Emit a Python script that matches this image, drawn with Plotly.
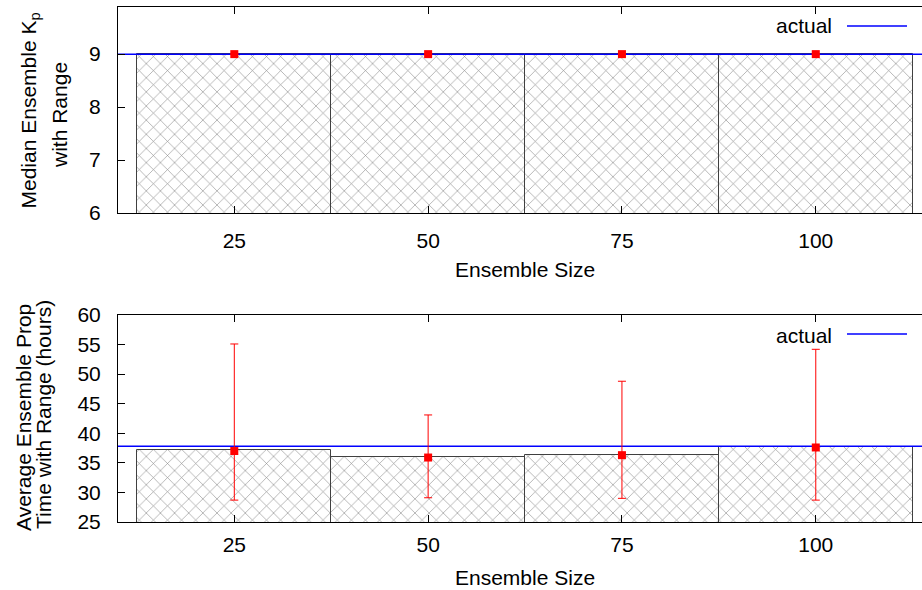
import plotly.graph_objects as go

# ---- data ----
ensemble_sizes = [25, 50, 75, 100]
kp_median = [9, 9, 9, 9]
kp_point = [9, 9, 9, 9]
kp_hi = [9, 9, 9, 9]
kp_lo = [9, 9, 9, 9]
kp_actual = 9

prop_avg = [37.2, 36.0, 36.3, 37.6]
prop_point = [37.0, 35.9, 36.3, 37.6]
prop_hi = [55.1, 43.1, 48.8, 54.2]
prop_lo = [28.7, 29.1, 29.0, 28.7]
prop_actual = 37.8

x_range = [10, 113.7]
kp_range = [6, 9.89]
prop_range = [25, 60]
bar_width = 25

W, H = 922, 590
FONT = "Liberation Sans, Arial, sans-serif"
FS = 21

def py(px):
    return 1 - px / H

def px_x(px):
    return px / W

fig = go.Figure()

def add_panel(xa, ya, means, pts, hi, lo, actual):
    fig.add_trace(go.Bar(
        x=ensemble_sizes, y=means, width=bar_width,
        xaxis=xa, yaxis=ya,
        marker=dict(color="white",
                    line=dict(color="#404040", width=1),
                    pattern=dict(shape="x", size=10, solidity=0.12,
                                 fgcolor="#8c8c8c", bgcolor="white")),
        showlegend=False, hoverinfo="skip"))
    fig.add_trace(go.Scatter(
        x=x_range, y=[actual, actual], mode="lines",
        xaxis=xa, yaxis=ya,
        line=dict(color="#0000ff", width=1.5),
        showlegend=False, hoverinfo="skip"))
    fig.add_trace(go.Scatter(
        x=ensemble_sizes, y=pts, mode="markers",
        xaxis=xa, yaxis=ya,
        marker=dict(symbol="square", size=8, color="#ff0000"),
        error_y=dict(type="data", symmetric=False,
                     array=[h - p for h, p in zip(hi, pts)],
                     arrayminus=[p - l for l, p in zip(lo, pts)],
                     color="#ff0000", thickness=1, width=4),
        showlegend=False, hoverinfo="skip"))

add_panel("x", "y", kp_median, kp_point, kp_hi, kp_lo, kp_actual)
add_panel("x2", "y2", prop_avg, prop_point, prop_hi, prop_lo, prop_actual)

xdom = [px_x(118), 1.0]
top_dom = [py(213), py(7)]
bot_dom = [py(522), py(315)]

xcommon = dict(range=x_range, tickvals=ensemble_sizes,
               ticktext=[str(v) for v in ensemble_sizes],
               showline=True, linecolor="black", linewidth=1, mirror="ticks",
               ticks="inside", ticklen=7, tickcolor="black", automargin=False,
               showgrid=False, zeroline=False,
               tickfont=dict(family=FONT, size=FS, color="black"))
ycommon = dict(showline=True, linecolor="black", linewidth=1,
               ticks="inside", ticklen=7, tickcolor="black", automargin=False,
               showgrid=False, zeroline=False, ticklabelstandoff=12,
               tickfont=dict(family=FONT, size=FS, color="black"))

fig.update_layout(
    template="none",
    width=W, height=H,
    margin=dict(l=0, r=0, t=0, b=0, pad=0, autoexpand=False),
    paper_bgcolor="white", plot_bgcolor="white",
    bargap=0,
    xaxis=dict(domain=xdom, anchor="y", ticklabelstandoff=9, **xcommon),
    yaxis=dict(domain=top_dom, anchor="x", range=kp_range, tickvals=[6, 7, 8, 9], **ycommon),
    xaxis2=dict(domain=xdom, anchor="y2", ticklabelstandoff=4, **xcommon),
    yaxis2=dict(domain=bot_dom, anchor="x2", range=prop_range, dtick=5, tick0=25, **ycommon),
)

ann_font = dict(family=FONT, size=FS, color="black")
annotations = [
    dict(text="Ensemble Size", x=px_x(525), y=py(269), xref="paper", yref="paper",
         xanchor="center", yanchor="middle", showarrow=False, font=ann_font),
    dict(text="Ensemble Size", x=px_x(525), y=py(577), xref="paper", yref="paper",
         xanchor="center", yanchor="middle", showarrow=False, font=ann_font),
    dict(text="Median Ensemble K<sub>p</sub>", x=px_x(29.5), y=py(111), xref="paper", yref="paper",
         xanchor="center", yanchor="middle", textangle=-90, showarrow=False, font=ann_font),
    dict(text="with Range", x=px_x(59), y=py(115), xref="paper", yref="paper",
         xanchor="center", yanchor="middle", textangle=-90, showarrow=False, font=ann_font),
    dict(text="Average Ensemble Prop", x=px_x(23), y=py(418), xref="paper", yref="paper",
         xanchor="center", yanchor="middle", textangle=-90, showarrow=False, font=ann_font),
    dict(text="Time with Range (hours)", x=px_x(43), y=py(415), xref="paper", yref="paper",
         xanchor="center", yanchor="middle", textangle=-90, showarrow=False, font=ann_font),
    dict(text="actual", x=px_x(834), y=py(26), xref="paper", yref="paper",
         xanchor="right", yanchor="middle", showarrow=False, font=ann_font),
    dict(text="actual", x=px_x(834), y=py(335), xref="paper", yref="paper",
         xanchor="right", yanchor="middle", showarrow=False, font=ann_font),
]
fig.update_layout(annotations=annotations)

shapes = [
    dict(type="line", xref="paper", yref="paper", x0=px_x(847), x1=px_x(907),
         y0=py(26), y1=py(26), line=dict(color="#0000ff", width=1.5)),
    dict(type="line", xref="paper", yref="paper", x0=px_x(847), x1=px_x(907),
         y0=py(334), y1=py(334), line=dict(color="#0000ff", width=1.5)),
]
fig.update_layout(shapes=shapes)

fig.write_html("out.html", config={"displayModeBar": False},
               post_script="document.body.style.margin='0';document.body.style.overflow='hidden';")
